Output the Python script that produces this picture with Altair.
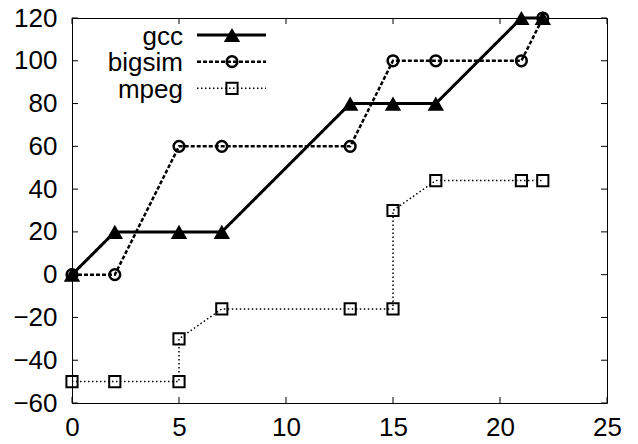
import altair as alt
import pandas as pd

# ---- data ----
series_names = ["gcc", "bigsim", "mpeg"]
x_gcc = [0, 2, 5, 7, 13, 15, 17, 21, 22]
y_gcc = [0, 20, 20, 20, 80, 80, 80, 120, 120]
x_bigsim = [0, 2, 5, 7, 13, 15, 17, 21, 22]
y_bigsim = [0, 0, 60, 60, 60, 100, 100, 100, 120]
x_mpeg = [0, 2, 5, 5, 7, 13, 15, 15, 17, 21, 22]
y_mpeg = [-50, -50, -50, -30, -16, -16, -16, 30, 44, 44, 44]
x_ticks = [0, 5, 10, 15, 20, 25]
y_ticks = [-60, -40, -20, 0, 20, 40, 60, 80, 100, 120]

W, H = 535, 385
FONT = "Liberation Sans"
FS = 26
TICK = 6

xs = alt.Scale(domain=[0, 25], nice=False, zero=False)
ys = alt.Scale(domain=[-60, 120], nice=False, zero=False)
x_axis = alt.Axis(values=x_ticks, format="d", labelPadding=11, labelFlush=False,
                  labelOverlap=False, title=None)
y_axis = alt.Axis(values=y_ticks, format="d", labelPadding=15, labelFlush=False,
                  labelOverlap=False, title=None)

styles = {
    "gcc":    dict(dash=[1, 0], width=3.0, shape="triangle-up", filled=True, size=270, sw=1.5),
    "bigsim": dict(dash=[4, 2], width=2.5, shape="circle", filled=False, size=115, sw=2.5),
    "mpeg":   dict(dash=[1.5, 2.5], width=1.5, shape="square", filled=False, size=125, sw=2.0),
}
series_data = {
    "gcc": (x_gcc, y_gcc),
    "bigsim": (x_bigsim, y_bigsim),
    "mpeg": (x_mpeg, y_mpeg),
}


def X(field):
    return alt.X(field, scale=xs, axis=x_axis, title=None)


layers = []
first = True
for name in series_names:
    xv, yv = series_data[name]
    d = pd.DataFrame({"x": xv, "y": yv, "i": list(range(len(xv)))})
    st = styles[name]
    if first:
        yenc = alt.Y("y:Q", scale=ys, axis=y_axis, title=None)
        first = False
    else:
        yenc = alt.Y("y:Q", scale=ys, axis=None)
    line = alt.Chart(d).mark_line(
        color="black", strokeWidth=st["width"], strokeDash=st["dash"]
    ).encode(x=X("x:Q"), y=yenc, order="i:Q")
    pts = alt.Chart(d).mark_point(
        shape=st["shape"], filled=st["filled"], size=st["size"],
        strokeWidth=st["sw"], color="black", opacity=1
    ).encode(x=X("x:Q"), y=alt.Y("y:Q", scale=ys, axis=None))
    layers += [line, pts]

# inward tick marks on all four sides
xt = pd.DataFrame({"v": x_ticks})
yt = pd.DataFrame({"v": y_ticks})
yt_enc = alt.Y("v:Q", scale=ys, axis=None)
layers.append(alt.Chart(xt).mark_rule(color="black", strokeWidth=1).encode(
    x=X("v:Q"), y=alt.value(H), y2=alt.value(H - TICK)))
layers.append(alt.Chart(xt).mark_rule(color="black", strokeWidth=1).encode(
    x=X("v:Q"), y=alt.value(0), y2=alt.value(TICK)))
layers.append(alt.Chart(yt).mark_rule(color="black", strokeWidth=1).encode(
    y=yt_enc, x=alt.value(0), x2=alt.value(TICK)))
layers.append(alt.Chart(yt).mark_rule(color="black", strokeWidth=1).encode(
    y=yt_enc, x=alt.value(W - TICK), x2=alt.value(W)))

# key (gnuplot style: label on the left, sample on the right)
leg = pd.DataFrame({"series": series_names})
leg_y = alt.Y("series:N", sort=series_names, axis=None,
              scale=alt.Scale(type="point", domain=series_names, range=[17, 70.3], padding=0))
layers.append(alt.Chart(leg).mark_text(
    align="right", baseline="middle", font=FONT, fontSize=FS, color="black", dy=1.5
).encode(text="series:N", x=alt.value(111), y=leg_y))
for name in series_names:
    st = styles[name]
    base = alt.Chart(leg).transform_filter(alt.datum.series == name)
    layers.append(base.mark_rule(
        color="black", strokeWidth=st["width"], strokeDash=st["dash"]
    ).encode(x=alt.value(125), x2=alt.value(194), y=leg_y))
    layers.append(base.mark_point(
        shape=st["shape"], filled=st["filled"], size=st["size"],
        strokeWidth=st["sw"], color="black", opacity=1
    ).encode(x=alt.value(160), y=leg_y))

chart = alt.layer(*layers).resolve_scale(y="independent").properties(
    width=W, height=H,
    autosize=alt.AutoSizeParams(type="none"),
    padding={"left": 64, "top": 10, "right": 23, "bottom": 38},
    background="white",
).configure_view(stroke="black", strokeWidth=1).configure_axis(
    labelFont=FONT, labelFontSize=FS, labelColor="black",
    domain=False, ticks=False, grid=False
)

chart.save("out.html", embed_options={"renderer": "svg", "actions": False})
